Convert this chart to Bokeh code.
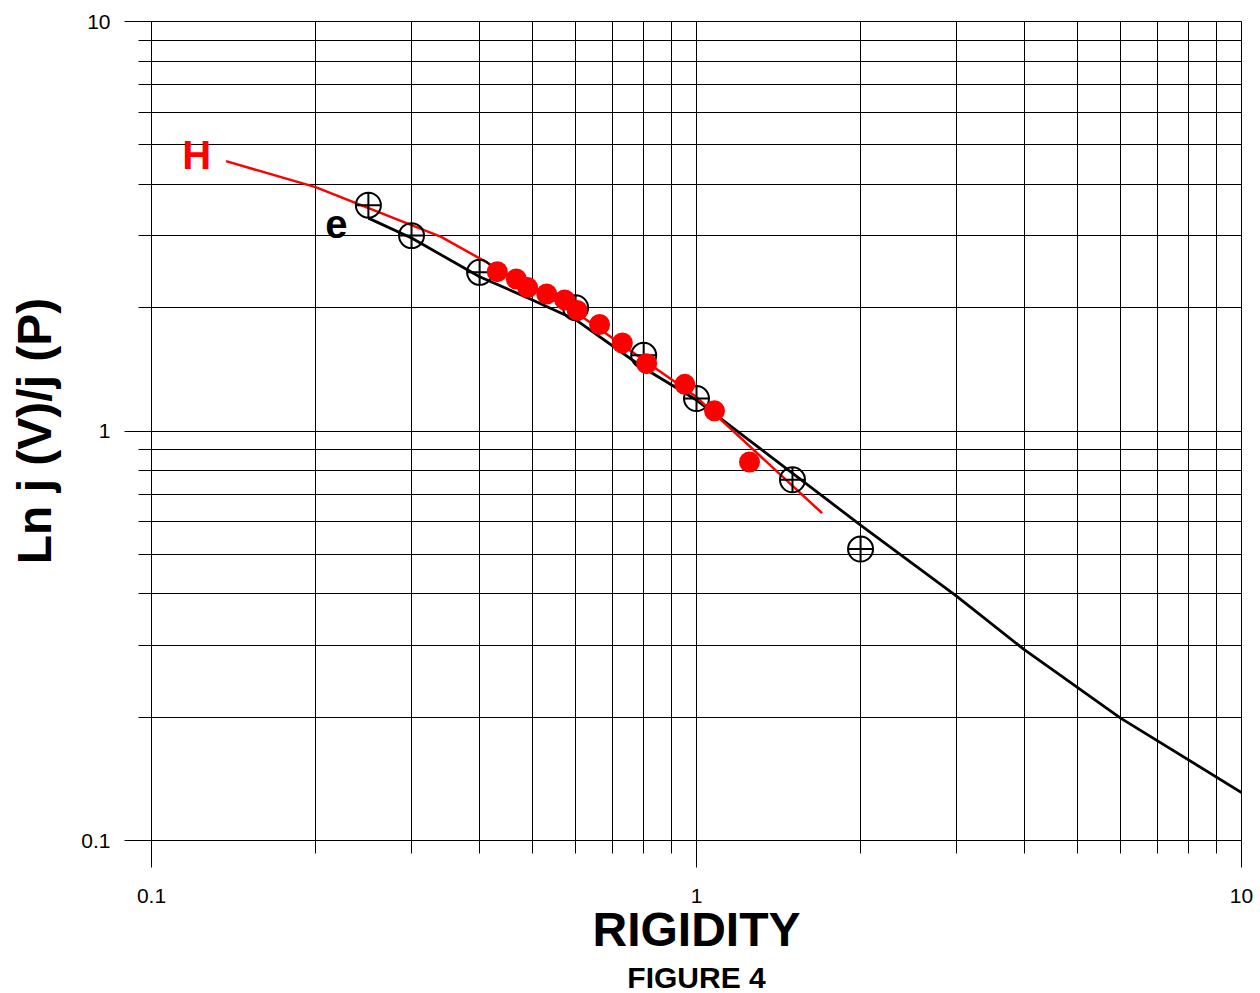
from bokeh.plotting import figure
from bokeh.models import FixedTicker, Label, Range1d, Title
from bokeh.embed import file_html
from bokeh.resources import INLINE

# ---- data ----
x_major_ticks = [0.1, 1, 10]
x_minor_ticks = [0.2, 0.3, 0.4, 0.5, 0.6, 0.7, 0.8, 0.9, 2, 3, 4, 5, 6, 7, 8, 9]
y_major_ticks = [0.1, 1, 10]
y_minor_ticks = [0.2, 0.3, 0.4, 0.5, 0.6, 0.7, 0.8, 0.9, 2, 3, 4, 5, 6, 7, 8, 9]
tick_labels = {0.1: "0.1", 1: "1", 10: "10"}

# electrons (e): open circle-cross markers and model line
e_x = [0.25, 0.3, 0.4, 0.6, 0.8, 1.0, 1.5, 2.0]
e_y = [3.56, 3.0, 2.44, 2.0, 1.53, 1.2, 0.76, 0.515]
e_line_x = [0.25, 0.3, 0.4, 0.5, 0.6, 0.8, 1.0, 2.0, 3.0, 4.0, 6.0, 10.0]
e_line_y = [3.31, 2.96, 2.38, 2.09, 1.87, 1.425, 1.19, 0.589, 0.395, 0.292, 0.199, 0.131]

# H: filled red points and model line
h_x = [0.431, 0.467, 0.490, 0.531, 0.573, 0.604, 0.664, 0.731, 0.810, 0.952, 1.079, 1.251]
h_y = [2.45, 2.35, 2.24, 2.16, 2.09, 1.97, 1.82, 1.64, 1.46, 1.30, 1.12, 0.84]
h_line_x = [0.137, 0.2, 0.34, 0.6, 1.0, 1.7]
h_line_y = [4.56, 3.94, 2.98, 1.95, 1.21, 0.63]

FONT = "Liberation Sans"

p = figure(
    x_axis_type="log", y_axis_type="log",
    x_range=Range1d(0.1, 10), y_range=Range1d(0.1, 10),
    width=1260, height=993,
    min_border_left=151, min_border_right=19, min_border_top=21, min_border_bottom=153,
    output_backend="svg", toolbar_location=None,
    background_fill_color="white", border_fill_color="white",
)
p.outline_line_color = "black"

xt = FixedTicker(ticks=x_major_ticks, minor_ticks=x_minor_ticks)
yt = FixedTicker(ticks=y_major_ticks, minor_ticks=y_minor_ticks)
p.xaxis.ticker = xt
p.yaxis.ticker = yt
p.xgrid.ticker = xt
p.ygrid.ticker = yt

for g in (p.xgrid, p.ygrid):
    g.grid_line_color = "black"
    g.grid_line_width = 1
    g.grid_line_alpha = 1
    g.minor_grid_line_color = "black"
    g.minor_grid_line_width = 1

for ax in (p.xaxis, p.yaxis):
    ax.major_label_overrides = tick_labels
    ax.axis_line_color = "black"
    ax.major_tick_line_color = "black"
    ax.minor_tick_line_color = "black"
    ax.major_tick_in = 0
    ax.minor_tick_in = 0
    ax.major_tick_out = 27
    ax.minor_tick_out = 13
    ax.major_label_text_font = FONT
    ax.major_label_text_font_size = "21px"
    ax.major_label_text_color = "black"
    ax.axis_label_text_font = FONT
    ax.axis_label_text_font_style = "bold"
    ax.axis_label_text_color = "black"

p.yaxis.axis_label = "Ln j (V)/j (P)"
p.yaxis.axis_label_text_font_size = "48px"
p.yaxis.major_label_standoff = 14
p.yaxis.axis_label_standoff = 17

p.xaxis.axis_label = "RIGIDITY"
p.xaxis.axis_label_text_font_size = "48px"
p.xaxis.major_label_standoff = 21
p.xaxis.axis_label_standoff = -3

# caption below the axis title
p.add_layout(Title(text="FIGURE 4", align="center", standoff=0,
                   text_font=FONT, text_font_size="30px", text_font_style="bold",
                   text_color="black"), "below")

# lines
p.line(e_line_x, e_line_y, line_color="black", line_width=2.8)
p.line(h_line_x, h_line_y, line_color="red", line_width=2.5)
# markers
p.scatter(e_x, e_y, marker="circle_cross", size=25, fill_color=None,
          line_color="black", line_width=2)
p.scatter(h_x, h_y, marker="circle", size=21, fill_color="red", line_color=None)

# series labels
p.add_layout(Label(x=0.121, y=4.72, text="H", text_align="center",
                   text_baseline="alphabetic", text_font=FONT, text_font_size="40px",
                   text_font_style="bold", text_color="red"))
p.add_layout(Label(x=0.2184, y=3.20, text="e", text_align="center",
                   text_baseline="alphabetic", text_font=FONT, text_font_size="40px",
                   text_font_style="bold", text_color="black"))

open("out.html", "w").write(file_html(p, INLINE))
